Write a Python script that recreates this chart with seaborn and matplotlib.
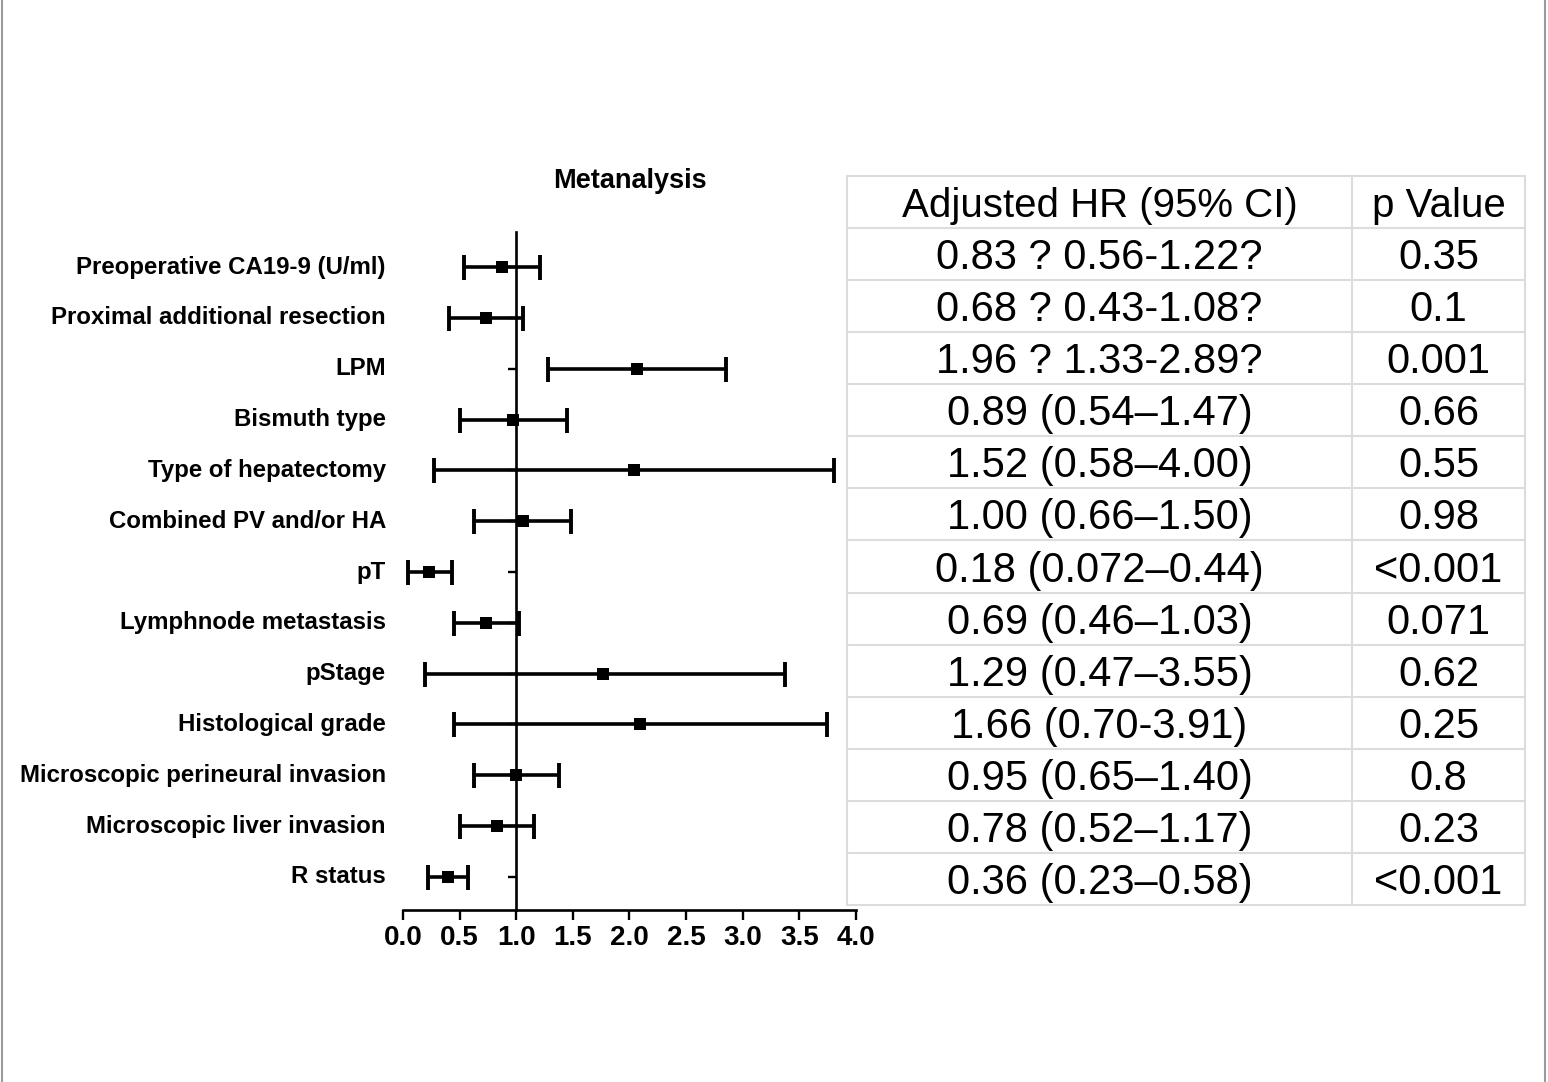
import numpy as np
import pandas as pd
import matplotlib
matplotlib.use('Agg')
import matplotlib.pyplot as plt
import matplotlib.transforms as mtransforms
from matplotlib.lines import Line2D
import seaborn as sns

# values
factors = ['Preoperative CA19-9 (U/ml)', 'Proximal additional resection', 'LPM',
           'Bismuth type', 'Type of hepatectomy', 'Combined PV and/or HA', 'pT',
           'Lymphnode metastasis', 'pStage', 'Histological grade',
           'Microscopic perineural invasion', 'Microscopic liver invasion', 'R status']
hr = [0.87, 0.73, 2.07, 0.97, 2.04, 1.06, 0.23, 0.73, 1.77, 2.09, 1.00, 0.83, 0.40]
ci_low = [0.54, 0.41, 1.28, 0.50, 0.27, 0.63, 0.04, 0.45, 0.19, 0.45, 0.63, 0.50, 0.22]
ci_high = [1.21, 1.06, 2.85, 1.45, 3.81, 1.48, 0.43, 1.02, 3.37, 3.74, 1.38, 1.16, 0.57]

# table text
hr_text = ['0.83 ? 0.56-1.22?', '0.68 ? 0.43-1.08?', '1.96 ? 1.33-2.89?',
           '0.89 (0.54–1.47)', '1.52 (0.58–4.00)', '1.00 (0.66–1.50)',
           '0.18 (0.072–0.44)', '0.69 (0.46–1.03)', '1.29 (0.47–3.55)',
           '1.66 (0.70-3.91)', '0.95 (0.65–1.40)', '0.78 (0.52–1.17)',
           '0.36 (0.23–0.58)']
p_text = ['0.35', '0.1', '0.001', '0.66', '0.55', '0.98', '<0.001', '0.071',
          '0.62', '0.25', '0.8', '0.23', '<0.001']
x_ticks = [0.0, 0.5, 1.0, 1.5, 2.0, 2.5, 3.0, 3.5, 4.0]

sns.set_style('white')
plt.rcParams['font.family'] = ['Liberation Sans', 'DejaVu Sans']
plt.rcParams['text.color'] = 'black'
plt.rcParams['xtick.color'] = 'black'
plt.rcParams['ytick.color'] = 'black'

df = pd.DataFrame({'factor': factors, 'hr': hr, 'lo': ci_low, 'hi': ci_high})
df['row'] = np.arange(len(df))

W, H = 1548, 1082
fig = plt.figure(figsize=(W / 100, H / 100), dpi=100)
ax = fig.add_axes([403 / W, 172 / H, 453 / W, 678 / H])

ax.errorbar(df['hr'], df['row'], xerr=[df['hr'] - df['lo'], df['hi'] - df['hr']],
            fmt='none', ecolor='black', elinewidth=2.6, capsize=9, capthick=2.8, zorder=2)
sns.scatterplot(data=df, x='hr', y='row', marker='s', s=85, color='black',
                linewidth=0, ax=ax, zorder=3, legend=False)

ax.set_xlim(0, 4)
ax.set_ylim(12.65, -0.69)
ax.set_xlabel('')
ax.set_ylabel('')

for s in ['top', 'right']:
    ax.spines[s].set_visible(False)
ax.spines['left'].set_position(('data', 1.0))
for s in ['left', 'bottom']:
    ax.spines[s].set_linewidth(1.9)
    ax.spines[s].set_color('black')

ax.set_yticks(df['row'])
ax.set_yticklabels([])
ax.tick_params(axis='y', direction='out', length=6, width=1.7, color='black', left=True)
ax.set_xticks(x_ticks)
ax.set_xticklabels([f'{t:.1f}' for t in x_ticks], fontsize=20, fontweight='bold', color='black')
ax.tick_params(axis='x', direction='out', length=7, width=1.7, color='black', pad=4, bottom=True)

trans = mtransforms.blended_transform_factory(ax.transAxes, ax.transData)
for r, name in zip(df['row'], df['factor']):
    ax.text((386 - 403) / 453, r, name, ha='right', va='center', fontsize=17.3,
            fontweight='bold', color='black', transform=trans)

fig.text(630 / W, 1 - 181 / H, 'Metanalysis', ha='center', va='center',
         fontsize=19.5, fontweight='bold', color='black')

# table on the right
tx0, tx1, tmid = 847, 1525, 1352
ty0, ty1, hdr = 176, 905, 228
tax = fig.add_axes([tx0 / W, (H - ty1) / H, (tx1 - tx0) / W, (ty1 - ty0) / H])
tax.set_xlim(tx0, tx1)
tax.set_ylim(ty1, ty0)
tax.axis('off')
grid = '#dcdcdc'
row_h = (ty1 - hdr) / len(hr_text)
ys = [ty0, hdr] + [hdr + row_h * (i + 1) for i in range(len(hr_text))]
for y in ys:
    tax.plot([tx0, tx1], [y, y], color=grid, lw=1.5, clip_on=False)
for x in [tx0, tmid, tx1]:
    tax.plot([x, x], [ty0, ty1], color=grid, lw=1.5, clip_on=False)

tax.text((tx0 + tmid) / 2, (ty0 + hdr) / 2 + 4, 'Adjusted HR (95% CI)', ha='center',
         va='center', fontsize=29, color='black')
tax.text((tmid + tx1) / 2, (ty0 + hdr) / 2 + 4, 'p Value', ha='center', va='center',
         fontsize=29, color='black')
for i, (h, p) in enumerate(zip(hr_text, p_text)):
    yc = hdr + row_h * (i + 0.5) + 4
    tax.text((tx0 + tmid) / 2, yc, h, ha='center', va='center', fontsize=30, color='black')
    tax.text((tmid + tx1) / 2, yc, p, ha='center', va='center', fontsize=30, color='black')

# page border
fig.add_artist(Line2D([1.5 / W, 1.5 / W], [0, 1], transform=fig.transFigure, color='#9a9a9a', lw=1.5))
fig.add_artist(Line2D([1545 / W, 1545 / W], [0, 1], transform=fig.transFigure, color='#9a9a9a', lw=1.5))

fig.savefig('out.png', dpi=100, facecolor='white')
